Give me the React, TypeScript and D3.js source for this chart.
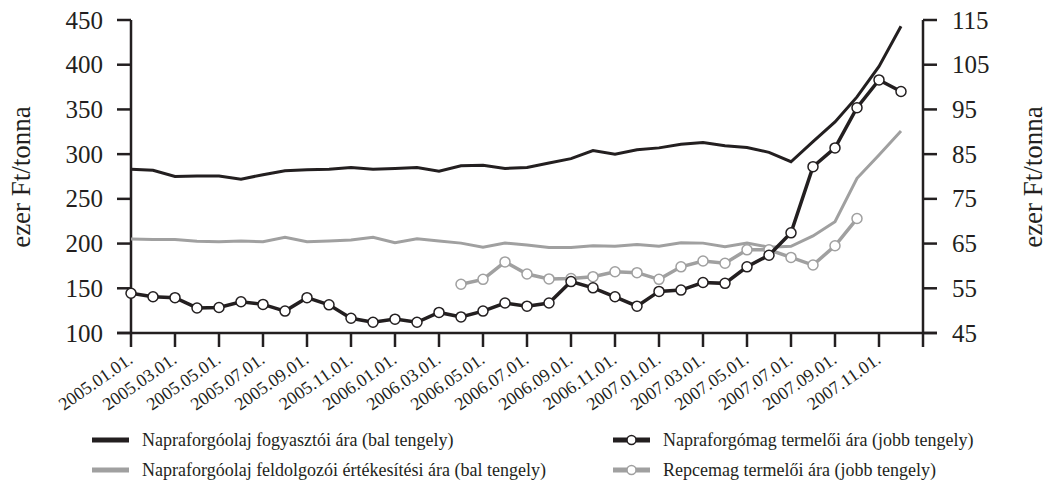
import React from 'react';
import * as d3 from 'd3';

// month index 0 = 2005.01, 35 = 2007.12
const tickLabels = [
  '2005.01.01.', '2005.03.01.', '2005.05.01.', '2005.07.01.', '2005.09.01.', '2005.11.01.',
  '2006.01.01.', '2006.03.01.', '2006.05.01.', '2006.07.01.', '2006.09.01.', '2006.11.01.',
  '2007.01.01.', '2007.03.01.', '2007.05.01.', '2007.07.01.', '2007.09.01.', '2007.11.01.',
];
const leftTicks = [100, 150, 200, 250, 300, 350, 400, 450];
const rightTicks = [45, 55, 65, 75, 85, 95, 105, 115];

// bal tengely (ezer Ft/tonna)
const oilConsumer = [
  283, 282, 275, 275.5, 275.5, 272, 277, 281.5, 282.5, 283, 285, 283,
  284, 285, 281, 287, 287.5, 284, 285, 290, 295, 304, 300, 305,
  307, 311, 313, 309.5, 307.5, 302, 291.5, 314, 336, 364, 398, 443,
];
const oilProcessor = [
  205, 204.5, 204.5, 202.5, 202, 203, 202, 207, 202, 203, 204, 207,
  201, 205.5, 203, 200.5, 196, 200.5, 198.5, 195.5, 195.5, 197.5, 197, 199,
  197, 201, 200.5, 196.5, 200.5, 196, 197, 208.5, 224.5, 273, 299, 326,
];

// jobb tengely
const sunflowerSeed = [
  53.9, 53.1, 52.9, 50.6, 50.7, 52.0, 51.4, 49.9, 52.9, 51.3, 48.3, 47.4,
  48.1, 47.4, 49.6, 48.6, 49.9, 51.7, 51.0, 51.7, 56.5, 55.1, 53.1, 51.0,
  54.3, 54.6, 56.3, 56.1, 59.8, 62.4, 67.4, 82.2, 86.4, 95.4, 101.6, 99.0,
];
const rapeseed = [
  null, null, null, null, null, null, null, null, null, null, null, null,
  null, null, null, 55.9, 57.0, 60.9, 58.2, 57.1, 57.2, 57.6, 58.7, 58.5,
  57.0, 59.8, 61.1, 60.6, 63.6, 63.6, 61.9, 60.2, 64.5, 70.6, null, null,
];

const legendItems = [
  { name: 'Napraforgóolaj fogyasztói ára (bal tengely)', color: '#231f20', marker: false },
  { name: 'Napraforgóolaj feldolgozói értékesítési ára (bal tengely)', color: '#a0a0a0', marker: false },
  { name: 'Napraforgómag termelői ára (jobb tengely)', color: '#231f20', marker: true },
  { name: 'Repcemag termelői ára (jobb tengely)', color: '#a0a0a0', marker: true },
];

const BLACK = '#231f20';
const GRAY = '#a0a0a0';
const FONT = 'Liberation Serif';

const x = d3.scaleLinear().domain([0, 36]).range([131, 923]);
const yLeft = d3.scaleLinear().domain([100, 450]).range([333, 20]);
const yRight = d3.scaleLinear().domain([45, 115]).range([333, 20]);

const lineL = d3.line<number>().x((_, i) => x(i)).y((d) => yLeft(d));
const lineR = d3.line<number | null>()
  .defined((d) => d != null)
  .x((_, i) => x(i))
  .y((d) => yRight(d as number));

const Seed = ({ data, color }: { data: (number | null)[]; color: string }) => (
  <g>
    <path d={lineR(data) ?? ''} fill="none" stroke={color} strokeWidth={3.5} />
    {data.map((v, i) =>
      v == null ? null : (
        <circle key={i} cx={x(i)} cy={yRight(v)} r={5} fill="#fff" stroke={color} strokeWidth={1.5} />
      )
    )}
  </g>
);

const App = () => {
  const x0 = x(0);
  const x1 = x(36);
  const yb = yLeft(100);
  const monthTicks = d3.range(0, 37, 2);

  return (
    <svg width={1053} height={482} style={{ position: 'absolute', left: 0, top: 0, background: '#fff' }}>
      {/* left axis */}
      <line x1={x0} x2={x0} y1={yLeft(450)} y2={yb} stroke={BLACK} strokeWidth={2.5} />
      {leftTicks.map((t) => (
        <g key={t}>
          <line x1={x0 - 14} x2={x0} y1={yLeft(t)} y2={yLeft(t)} stroke={BLACK} strokeWidth={2.5} />
          <text x={x0 - 28} y={yLeft(t)} dy="0.34em" textAnchor="end" fontFamily={FONT} fontSize={25} fill={BLACK}>
            {t}
          </text>
        </g>
      ))}

      {/* right axis */}
      <line x1={x1} x2={x1} y1={yRight(115)} y2={yb} stroke={BLACK} strokeWidth={2.5} />
      {rightTicks.map((t) => (
        <g key={t}>
          <line x1={x1} x2={x1 + 14} y1={yRight(t)} y2={yRight(t)} stroke={BLACK} strokeWidth={2.5} />
          <text x={x1 + 29} y={yRight(t)} dy="0.34em" textAnchor="start" fontFamily={FONT} fontSize={25} fill={BLACK}>
            {t}
          </text>
        </g>
      ))}

      {/* bottom axis */}
      <line x1={x0 - 14} x2={x1 + 14} y1={yb} y2={yb} stroke={BLACK} strokeWidth={2.5} />
      {monthTicks.map((m, k) => (
        <g key={m}>
          <line x1={x(m)} x2={x(m)} y1={yb} y2={yb + 14} stroke={BLACK} strokeWidth={2.5} />
          {tickLabels[k] && (
            <text
              transform={`translate(${x(m) + 3},${yb + 29}) rotate(-35)`}
              textAnchor="end"
              fontFamily={FONT}
              fontSize={18}
              fill={BLACK}
            >
              {tickLabels[k]}
            </text>
          )}
        </g>
      ))}

      {/* series */}
      <path d={lineL(oilProcessor) ?? ''} fill="none" stroke={GRAY} strokeWidth={3} />
      <path d={lineL(oilConsumer) ?? ''} fill="none" stroke={BLACK} strokeWidth={3} />
      <Seed data={rapeseed} color={GRAY} />
      <Seed data={sunflowerSeed} color={BLACK} />

      {/* axis titles */}
      <text transform="translate(30,177) rotate(-90)" textAnchor="middle" fontFamily={FONT} fontSize={27} fill={BLACK}>
        ezer Ft/tonna
      </text>
      <text transform="translate(1042,177) rotate(-90)" textAnchor="middle" fontFamily={FONT} fontSize={27} fill={BLACK}>
        ezer Ft/tonna
      </text>

      {/* legend */}
      {legendItems.map((d, i) => (
        <g key={d.name} transform={`translate(${i < 2 ? 92 : 613},${i % 2 === 0 ? 440 : 470})`}>
          <line x1={0} x2={37} y1={0} y2={0} stroke={d.color} strokeWidth={5} />
          {d.marker && <circle cx={18.5} cy={0} r={4.5} fill="#fff" stroke={d.color} strokeWidth={1.5} />}
          <text x={50} y={0} dy="0.35em" fontFamily={FONT} fontSize={18} fill={BLACK}>
            {d.name}
          </text>
        </g>
      ))}
    </svg>
  );
};

export default App;
